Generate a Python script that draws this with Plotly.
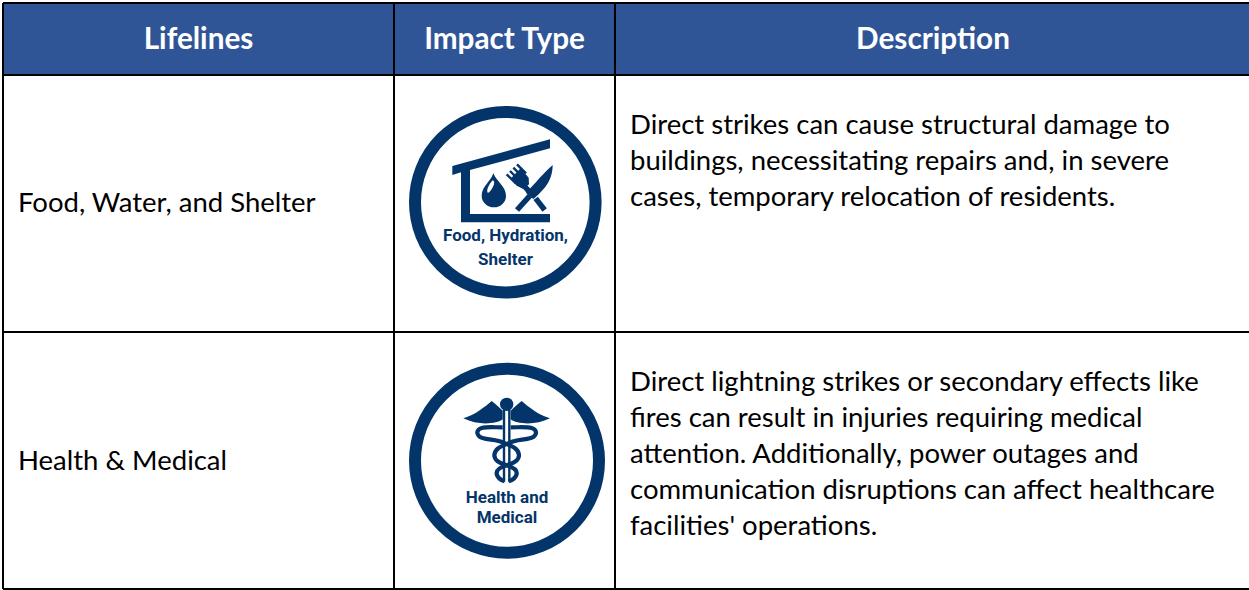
import plotly.graph_objects as go

# ---- table content ----
headers = ["Lifelines", "Impact Type", "Description"]
lifelines = ["Food, Water, and Shelter", "Health & Medical"]
icon_labels = [["Food, Hydration,", "Shelter"], ["Health and", "Medical"]]
descriptions = [
    ["Direct strikes can cause structural damage to",
     "buildings, necessitating repairs and, in severe",
     "cases, temporary relocation of residents."],
    ["Direct lightning strikes or secondary effects like",
     "fires can result in injuries requiring medical",
     "attention. Additionally, power outages and",
     "communication disruptions can affect healthcare",
     "facilities' operations."],
]

# ---- layout of the table, in page pixels ----
W, H = 1249, 590
col_edges = [3, 394, 615, 1249]
row_edges = [3, 75, 332, 589]
BODY_SIZE = 27.5
HEAD_SIZE = 29.7
LINE_STEP = 36
PAD = 15
FONT = "Lato"
NAVY = "#04356A"
HEAD = "#2F5597"

shapes = []


def rect(x0, y0, x1, y1, fill):
    shapes.append(dict(type="rect", xref="x", yref="y", x0=x0, y0=y0, x1=x1, y1=y1,
                       fillcolor=fill, line=dict(width=0), layer="below"))


def line(x0, y0, x1, y1):
    shapes.append(dict(type="line", xref="x", yref="y", x0=x0, y0=y0, x1=x1, y1=y1,
                       line=dict(color="black", width=2), layer="above"))


def zoomer(ox, oy):
    return lambda x, y: (ox + x / 3, oy + y / 3)


def path(pts_cmds, fill=None, stroke=None, width=0, cap_round=False):
    shapes.append(dict(type="path", xref="x", yref="y", path=pts_cmds,
                       fillcolor=fill if fill else "rgba(0,0,0,0)",
                       line=dict(color=stroke if stroke else "rgba(0,0,0,0)", width=width),
                       layer="above"))


def poly(z, pts, fill=NAVY):
    d = "M " + " L ".join("%.2f %.2f" % z(*p) for p in pts) + " Z"
    path(d, fill=fill)


def stroke(z, pts, width, color=NAVY):
    d = "M " + " L ".join("%.2f %.2f" % z(*p) for p in pts)
    path(d, stroke=color, width=width)


def curve(z, start, segs, width=0, fill=None, close=False):
    d = "M %.2f %.2f" % z(*start)
    for a, b, c in segs:
        d += " C %.2f %.2f %.2f %.2f %.2f %.2f" % (*z(*a), *z(*b), *z(*c))
    if close:
        d += " Z"
    path(d, fill=fill, stroke=None if close else NAVY, width=width)


def ring(cx, cy, r, w):
    shapes.append(dict(type="circle", xref="x", yref="y", x0=cx - r, x1=cx + r, y0=cy - r, y1=cy + r,
                       fillcolor="rgba(0,0,0,0)", line=dict(color=NAVY, width=w), layer="above"))


def disc(z, cx, cy, rx, ry=None, fill=NAVY):
    ry = ry or rx
    x0, y0 = z(cx - rx, cy - ry)
    x1, y1 = z(cx + rx, cy + ry)
    shapes.append(dict(type="circle", xref="x", yref="y", x0=x0, x1=x1, y0=y0, y1=y1,
                       fillcolor=fill, line=dict(width=0), layer="above"))


# header band + grid
rect(col_edges[0], row_edges[0], col_edges[-1], row_edges[1], HEAD)
line(col_edges[0], row_edges[0], col_edges[-1], row_edges[0])
for y in row_edges[1:]:
    line(col_edges[0], y, col_edges[-1], y)
for x in col_edges[:3]:
    line(x, row_edges[0], x, row_edges[-1])

# ---- food icon ----
ring(505.3, 202.2, 90.3, 12)
z = zoomer(395, 90)
poly(z, [(172, 228), (465, 148), (465, 175), (225, 240), (225, 372), (465, 372), (465, 397),
         (198, 397), (198, 247), (172, 255)])
z = zoomer(470, 155)
curve(z, (70, 55), [((62, 80), (35, 95), (35, 122)),
                    ((35, 142), (52, 157), (72, 157)),
                    ((92, 157), (108, 142), (108, 122)),
                    ((108, 95), (80, 80), (70, 55))], fill=NAVY, close=True)
curve(z, (66, 78), [((58, 88), (50, 100), (52, 112)),
                    ((56, 118), (68, 100), (72, 88)),
                    ((74, 80), (70, 74), (66, 78))], fill="white", close=True)
poly(z, [(123, 70), (152, 40), (176, 68), (177, 88), (160, 102), (140, 92)])
for a, b in [((110, 58), (138, 86)), ((120, 48), (148, 76)), ((130, 38), (158, 66)), ((141, 28), (168, 55))]:
    stroke(z, [a, b], 2.4)
stroke(z, [(160, 90), (180, 112)], 5.5)
stroke(z, [(197, 130), (224, 165)], 5.5)
stroke(z, [(141, 165), (180, 122)], 5.5)
curve(z, (168, 114), [((195, 85), (225, 50), (248, 30)),
                      ((248, 55), (240, 80), (224, 98)),
                      ((212, 112), (200, 124), (190, 132))], fill=NAVY, close=True)

# ---- caduceus icon ----
ring(507, 460.7, 92, 12)
z = zoomer(455, 390)
disc(z, 155, 43, 20)
for sign in (-1, 1):
    m = lambda x: 155 + sign * x
    curve(z, (m(130), 85), [((m(95), 75), (m(65), 50), (m(45), 33)),
                            ((m(35), 40), (m(25), 50), (m(12), 62)),
                            ((m(12), 72), (m(12), 80), (m(12), 88)),
                            ((m(30), 102), (m(85), 108), (m(130), 85))], fill=NAVY, close=True)
    stroke(z, [(m(8), 60), (m(8), 275)], 2.4)
    curve(z, (m(12), 112), [((m(40), 112), (m(60), 110), (m(75), 114)),
                            ((m(95), 120), (m(92), 142), (m(65), 146)),
                            ((m(45), 150), (m(25), 150), (m(10), 158)),
                            ((m(-15), 168), (m(-35), 175), (m(-37), 195)),
                            ((m(-37), 215), (m(-15), 220), (m(0), 226)),
                            ((m(20), 232), (m(32), 240), (m(30), 252)),
                            ((m(28), 262), (m(18), 270), (m(6), 274))], width=4.2)

# ---- text traces, all through the pixel axes ----
fig = go.Figure()
col_centers = [(col_edges[i] + col_edges[i + 1]) / 2 for i in range(3)]
col_centers[2] = 933


def text_trace(xs, ys, texts, size, color, pos, family=FONT, bold=False):
    fig.add_trace(go.Scatter(
        x=xs, y=ys, text=["<b>%s</b>" % t if bold else t for t in texts], mode="text",
        textposition=pos, hoverinfo="skip", showlegend=False,
        textfont=dict(family=family, size=size, color=color)))


text_trace(col_centers, [42] * 3, headers, HEAD_SIZE, "white", "middle center", bold=True)
text_trace([col_edges[0] + 15] * 2, [205.5, 463.5], lifelines, BODY_SIZE, "black", "middle right")

dx, dy = [], []
dt = []
for first_y, lines in zip([127.5, 384.5], descriptions):
    for i, t in enumerate(lines):
        dx.append(col_edges[2] + PAD)
        dy.append(first_y + i * LINE_STEP)
        dt.append(t)
text_trace(dx, dy, dt, BODY_SIZE, "black", "middle right")

lx, ly, lt = [], [], []
for cx, ys, labels in zip([505.5, 507], [[236.5, 260.5], [498.5, 519]], icon_labels):
    for y, t in zip(ys, labels):
        lx.append(cx)
        ly.append(y)
        lt.append(t)
text_trace(lx, ly, lt, 17, NAVY, "middle center", family="Roboto", bold=True)

fig.update_layout(
    width=W, height=H, margin=dict(l=0, r=0, t=0, b=0, pad=0),
    paper_bgcolor="white", plot_bgcolor="white", shapes=shapes, showlegend=False,
    xaxis=dict(range=[0, W], visible=False, fixedrange=True),
    yaxis=dict(range=[H, 0], visible=False, fixedrange=True),
)
fig.write_html("out.html", config=dict(displayModeBar=False),
               post_script="document.body.style.margin='0';document.body.style.overflow='hidden';")
